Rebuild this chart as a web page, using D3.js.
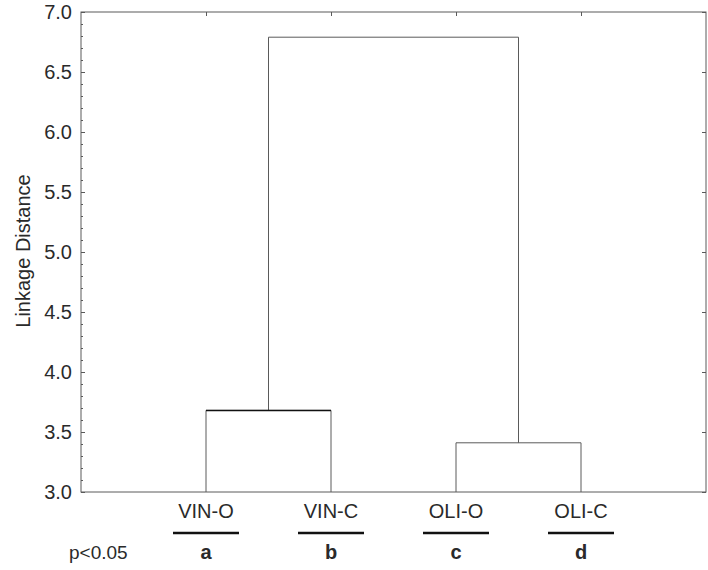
<!DOCTYPE html>
<html><head><meta charset="utf-8">
<script src="https://cdn.jsdelivr.net/npm/d3@7"></script>
<style>
html,body{margin:0;padding:0;background:#fff;}
svg{display:block;}
text{font-family:"Liberation Sans",Arial,sans-serif;}
</style></head>
<body><svg id="chart" width="708" height="570"></svg>
<script>
// ---- data ----
const leafNames = ["VIN-O", "VIN-C", "OLI-O", "OLI-C"];
const groupLetters = ["a", "b", "c", "d"];
// node ids: 0-3 leaves, 4.. merges in order
const mergeLeft = [0, 2, 4];
const mergeRight = [1, 3, 5];
const mergeHeight = [3.68, 3.41, 6.79];
const yTickValues = [3.0, 3.5, 4.0, 4.5, 5.0, 5.5, 6.0, 6.5, 7.0];
const yMinorValues = d3.range(30, 71).map(d => d / 10);
const yTitle = "Linkage Distance";
const sigLabel = "p<0.05";

// ---- layout ----
const svg = d3.select("#chart");
const L = 81, R = 706, T = 12, B = 492;
const x = d3.scaleLinear().domain([0, leafNames.length + 1]).range([L, R]);
const y = d3.scaleLinear().domain([3, 7]).range([B, T]);
const lineColor = "#5a5a5a";
const textColor = "#2a2a2a";
const FONT = "Liberation Sans, Arial, sans-serif";

// node positions
const nodeX = leafNames.map((d, i) => x(i + 1));
const nodeY = leafNames.map(() => y(3));
mergeLeft.forEach((a, k) => {
  const b = mergeRight[k];
  nodeX.push((nodeX[a] + nodeX[b]) / 2);
  nodeY.push(y(mergeHeight[k]));
});

// axes (ticks inside)
const gL = svg.append("g").attr("transform", `translate(${L},0)`);
gL.call(d3.axisLeft(y).tickValues(yMinorValues).tickSize(-2).tickFormat(""));
gL.call(g => g.select(".domain").remove());
const gL2 = svg.append("g").attr("transform", `translate(${L},0)`);
gL2.call(d3.axisLeft(y).tickValues(yTickValues).tickSize(-4).tickPadding(9).tickFormat(d3.format(".1f")));
gL2.select(".domain").remove();
gL2.attr("font-size", 20).attr("font-family", FONT);
gL2.selectAll("text").attr("fill", textColor);

const gR = svg.append("g").attr("transform", `translate(${R},0)`);
gR.call(d3.axisRight(y).tickValues(yMinorValues).tickSize(-2).tickFormat(""));
gR.call(d3.axisRight(y).tickValues(yTickValues).tickSize(-4).tickFormat(""));
gR.selectAll(".domain").remove();

const gT = svg.append("g").attr("transform", `translate(0,${T})`);
gT.call(d3.axisTop(x).tickValues(d3.range(1, leafNames.length + 1)).tickSize(-4).tickFormat(""));
gT.select(".domain").remove();

svg.selectAll(".tick line").attr("stroke", lineColor);

// frame
svg.append("rect").attr("x", L).attr("y", T).attr("width", R - L).attr("height", B - T)
  .attr("fill", "none").attr("stroke", lineColor).attr("stroke-width", 1);

// dendrogram links
const links = svg.append("g").attr("fill", "none");
mergeLeft.forEach((a, k) => {
  const b = mergeRight[k];
  const hy = y(mergeHeight[k]);
  const p = d3.path();
  p.moveTo(nodeX[a], nodeY[a]);
  p.lineTo(nodeX[a], hy);
  p.lineTo(nodeX[b], hy);
  p.lineTo(nodeX[b], nodeY[b]);
  links.append("path").attr("d", p.toString())
    .attr("stroke", lineColor).attr("stroke-width", 1);
});
// darker horizontal of the VIN cluster, as in reference
links.append("line")
  .attr("x1", nodeX[mergeLeft[0]]).attr("x2", nodeX[mergeRight[0]])
  .attr("y1", y(mergeHeight[0])).attr("y2", y(mergeHeight[0]))
  .attr("stroke", "#111").attr("stroke-width", 1.5);

// leaf labels
svg.append("g").selectAll("text").data(leafNames).join("text")
  .attr("x", (d, i) => x(i + 1)).attr("y", 518)
  .attr("text-anchor", "middle").attr("font-size", 20).attr("fill", textColor)
  .text(d => d);

// underline bars
svg.append("g").selectAll("line").data(leafNames).join("line")
  .attr("x1", (d, i) => x(i + 1) - 33).attr("x2", (d, i) => x(i + 1) + 33)
  .attr("y1", 533).attr("y2", 533)
  .attr("stroke", "#111").attr("stroke-width", 2.6);

// group letters
svg.append("g").selectAll("text").data(groupLetters).join("text")
  .attr("x", (d, i) => x(i + 1)).attr("y", 559)
  .attr("text-anchor", "middle").attr("font-size", 20).attr("font-weight", "bold").attr("fill", textColor)
  .text(d => d);

svg.append("text").attr("x", 69).attr("y", 559)
  .attr("font-size", 19).attr("fill", textColor).text(sigLabel);

// y title
svg.append("text").attr("transform", `translate(30,251) rotate(-90)`)
  .attr("text-anchor", "middle").attr("font-size", 20).attr("fill", textColor)
  .text(yTitle);
</script></body></html>
